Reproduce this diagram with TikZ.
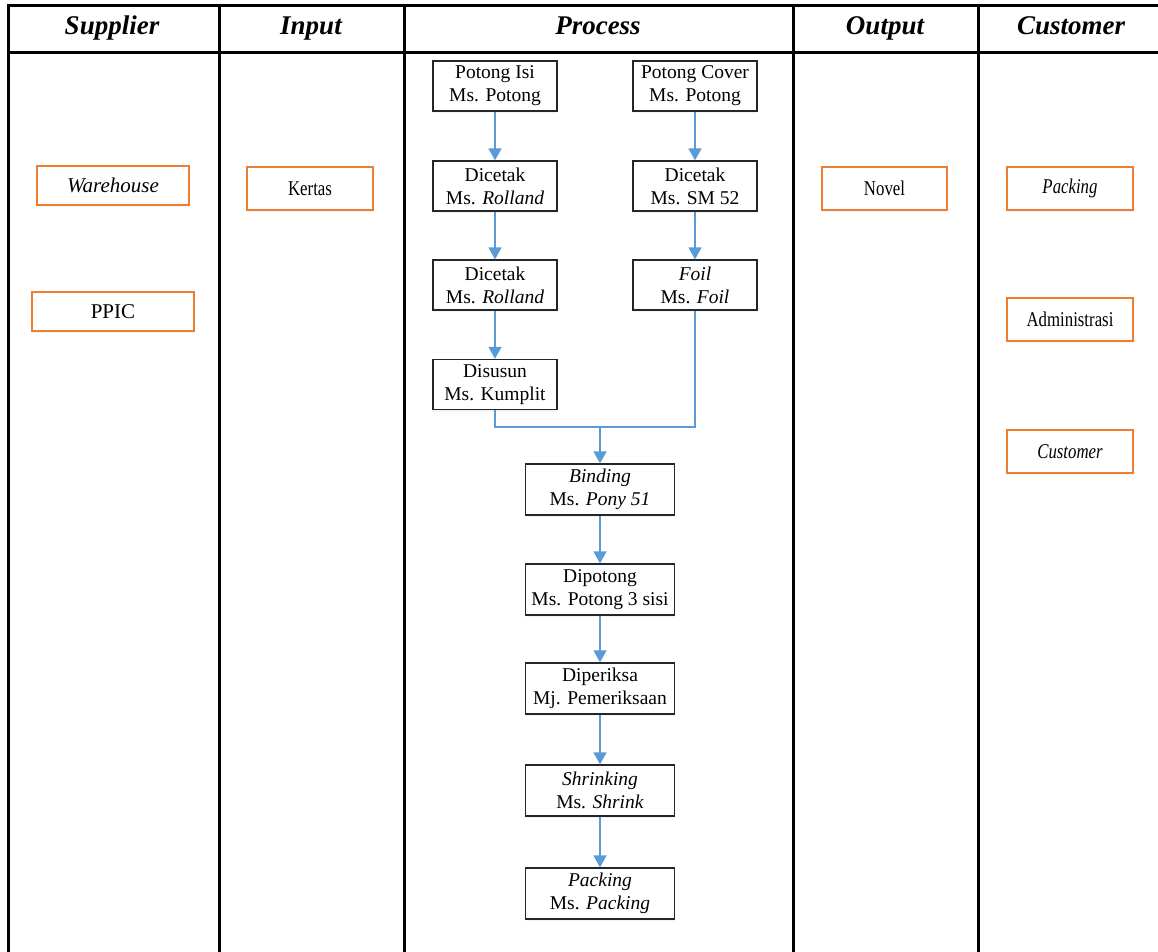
\documentclass[tikz,border=0pt]{standalone}
\usepackage{fontspec}
\setmainfont{Liberation Serif}
\usepackage{graphicx}
\usetikzlibrary{arrows.meta,shadows}

\definecolor{flowblue}{HTML}{5B9BD5}
\definecolor{boxorange}{HTML}{ED7D31}
\newcommand{\sqz}[1]{\scalebox{0.8}[1]{#1}}

\tikzset{
  rule/.style={line width=3pt},
  head/.style={anchor=base, font=\fontsize{27}{30}\selectfont\bfseries\itshape},
  proc/.style={draw=black!85, line width=1.3pt, fill=white, inner sep=0pt,
    minimum width=124pt, minimum height=50pt, align=center,
    font=\fontsize{19.5}{23}\selectfont,
    drop shadow={shadow xshift=0pt, shadow yshift=-2pt, fill=flowblue!30, opacity=0.35}},
  wideproc/.style={proc, minimum width=149pt, minimum height=51pt},
  ent/.style={draw=boxorange, line width=1.8pt, fill=white, inner sep=0pt,
    minimum height=43pt, align=center, font=\fontsize{21}{24}\selectfont,
    drop shadow={shadow xshift=0pt, shadow yshift=-2pt, fill=flowblue!30, opacity=0.35}},
  flow/.style={draw=flowblue, line width=1.6pt, -{Triangle[width=13pt,length=12pt]}},
  link/.style={draw=flowblue, line width=1.6pt}
}

\begin{document}
\begin{tikzpicture}[x=1pt,y=-1pt]
\useasboundingbox (0,0) rectangle (1158,952);
%\draw[draw=red] (0,0) rectangle (1158,952);
% table frame
\draw[rule] (1158,6) -- (8,6) -- (8,952);
\draw[rule] (8,53) -- (1158,53);
\foreach \x in {219,404,793,978} \draw[rule] (\x,6) -- (\x,952);
% column heads
\node[head] (hsup) at (112,35) {Supplier};
\node[head] (hin) at (311,35) {Input};
\node[head] (hproc) at (598,35) {Process};
\node[head] (hout) at (885,35) {Output};
\node[head] (hcus) at (1071,35) {Customer};
% supplier, input, output, customer
\node[ent, minimum width=152pt, minimum height=39pt] (gudang) at (113,185.5) {\textit{Warehouse}};
\node[ent, minimum width=162pt, minimum height=39pt] (ppic) at (113,311.5) {PPIC};
\node[ent, minimum width=126pt] (kertas) at (310,188.5) {\sqz{Kertas}};
\node[ent, minimum width=125pt] (novel) at (884.5,188.5) {\sqz{Novel}};
\node[ent, minimum width=126pt] (cpack) at (1070,188.5) {\sqz{\textit{Packing}}};
\node[ent, minimum width=126pt] (admin) at (1070,319.5) {\sqz{Administrasi}};
\node[ent, minimum width=126pt] (cust) at (1070,451.5) {\sqz{\textit{Customer}}};
% process steps
\node[proc] (isi) at (495,86) {Potong Isi\\Ms. Potong};
\node[proc] (cover) at (695,86) {Potong Cover\\Ms. Potong};
\node[proc] (cetak1) at (495,186) {Dicetak\\Ms. \textit{Rolland}};
\node[proc] (sm) at (695,186) {Dicetak\\Ms. SM 52};
\node[proc] (cetak2) at (495,285) {Dicetak\\Ms. \textit{Rolland}};
\node[proc] (foil) at (695,285) {\textit{Foil}\\Ms. \textit{Foil}};
\node[proc] (susun) at (495,384.5) {Disusun\\Ms. Kumplit};
\coordinate (merge) at (600,427);
\node[wideproc] (bind) at (600,489.5) {\textit{Binding}\\Ms. \textit{Pony 51}};
\node[wideproc] (potong) at (600,589.5) {Dipotong\\Ms. Potong 3 sisi};
\node[wideproc] (periksa) at (600,688.5) {Diperiksa\\Mj. Pemeriksaan};
\node[wideproc] (shrink) at (600,790.5) {\textit{Shrinking}\\Ms. \textit{Shrink}};
\node[wideproc] (pack) at (600,893.5) {\textit{Packing}\\Ms. \textit{Packing}};
% arrows
\draw[flow] (isi) -- (cetak1);
\draw[flow] (cetak1) -- (cetak2);
\draw[flow] (cetak2) -- (susun);
\draw[flow] (cover) -- (sm);
\draw[flow] (sm) -- (foil);
\draw[link] (susun.south) |- (merge) -| (foil.south);
\draw[flow] (merge) -- (bind);
\draw[flow] (bind) -- (potong);
\draw[flow] (potong) -- (periksa);
\draw[flow] (periksa) -- (shrink);
\draw[flow] (shrink) -- (pack);
\end{tikzpicture}
\end{document}
